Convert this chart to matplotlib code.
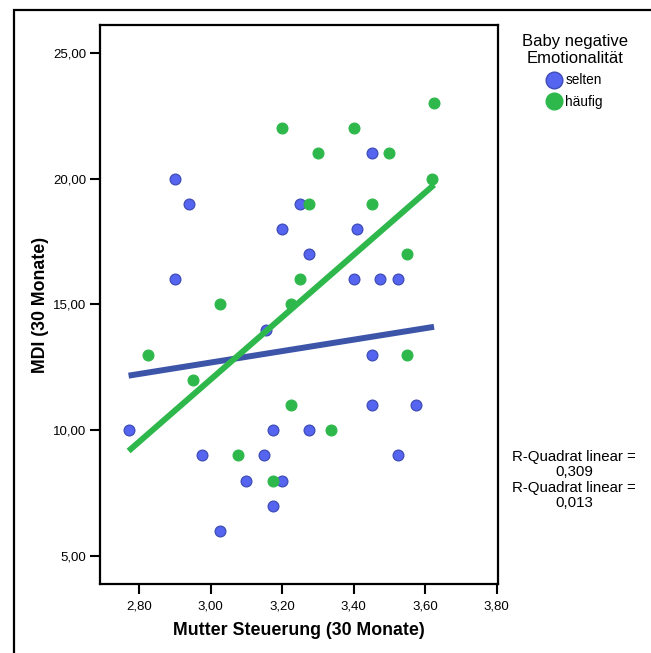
import numpy as np
import matplotlib
matplotlib.use("Agg")
import matplotlib.pyplot as plt
from matplotlib.ticker import FuncFormatter
from matplotlib.lines import Line2D
from matplotlib.patches import Rectangle

plt.rcParams['font.family'] = ['Liberation Sans', 'DejaVu Sans']

# Mutter Steuerung (x) / MDI (y), group "selten"
selten_x = [2.90, 2.94, 3.20, 3.25, 2.90, 3.45, 3.41, 3.275, 3.40, 3.475,
            3.525, 3.155, 2.77, 3.175, 2.975, 3.15, 3.45, 3.45, 3.575, 3.275,
            3.525, 3.10, 3.20, 3.175, 3.025]
selten_y = [20, 19, 18, 19, 16, 21, 18, 17, 16, 16,
            16, 14, 10, 10, 9, 9, 13, 11, 11, 10,
            9, 8, 8, 7, 6]
# group "häufig"
haeufig_x = [3.20, 3.40, 3.625, 3.30, 3.50, 3.62, 3.275, 3.45, 3.55, 3.25,
             3.025, 3.225, 2.825, 2.95, 3.225, 3.075, 3.55, 3.3375, 3.175]
haeufig_y = [22, 22, 23, 21, 21, 20, 19, 19, 17, 16,
             15, 15, 13, 12, 11, 9, 13, 10, 8]

# linear fits (slope, intercept)
fit_selten = (2.27, 5.88)
fit_haeufig = (12.37, -25.09)

x_ticks = [2.8, 3.0, 3.2, 3.4, 3.6, 3.8]
y_ticks = [5, 10, 15, 20, 25]
r2_labels = ["0,309", "0,013"]

BLUE_PT, BLUE_EDGE, BLUE_LINE = "#5665F0", "#3E4CB8", "#3D55A8"
GREEN = "#2EB84B"

fig = plt.figure(figsize=(6.51, 6.53), dpi=100)
ax = fig.add_axes([100/651, 1 - 584/653, 398/651, 559/653])

# outer frame (only left/top edges fall inside the picture)
fig.patches.append(Rectangle((14/651, -0.1), 1.2, 1 - 10/653 + 0.1,
                             transform=fig.transFigure, fill=False,
                             edgecolor="black", linewidth=1.6))

xs_all = np.array(selten_x + haeufig_x)
xfit = np.array([xs_all.min(), xs_all.max()])
for (k, d), lc in [(fit_selten, BLUE_LINE), (fit_haeufig, GREEN)]:
    ax.plot(xfit, k * xfit + d, color=lc, linewidth=4.3, solid_capstyle="butt", zorder=3)

ax.scatter(selten_x, selten_y, s=60, color=BLUE_PT, edgecolor=BLUE_EDGE,
           linewidth=0.9, zorder=2)
ax.scatter(haeufig_x, haeufig_y, s=60, color=GREEN, edgecolor=GREEN,
           linewidth=0.9, zorder=2)

ax.set_xlim(2.69, 3.804)
ax.set_ylim(3.89, 26.1)
ax.set_xticks(x_ticks)
ax.set_yticks(y_ticks)
fmt = FuncFormatter(lambda v, p: f"{v:.2f}".replace(".", ","))
ax.xaxis.set_major_formatter(fmt)
ax.yaxis.set_major_formatter(fmt)
ax.tick_params(direction="out", length=7, width=1.5, labelsize=9.5, pad=3)
ax.tick_params(axis="x", pad=5)
for s in ax.spines.values():
    s.set_linewidth(1.6)

ax.set_xlabel("Mutter Steuerung (30 Monate)", fontsize=12.8, fontweight="bold", labelpad=7)
ax.set_ylabel("MDI (30 Monate)", fontsize=12.8, fontweight="bold", labelpad=3)

# legend
handles = [Line2D([], [], marker="o", linestyle="", markersize=12,
                  markerfacecolor=BLUE_PT, markeredgecolor=BLUE_EDGE),
           Line2D([], [], marker="o", linestyle="", markersize=12,
                  markerfacecolor=GREEN, markeredgecolor=GREEN)]
leg = fig.legend(handles, ["selten", "häufig"], title="Baby negative\nEmotionalität",
                 loc="upper center", bbox_to_anchor=(575/651, 1 - 24/653),
                 frameon=False, fontsize=9.8, title_fontsize=12,
                 handlelength=1.0, handletextpad=0.35, labelspacing=0.55, borderpad=0.2)
leg.get_title().set_multialignment("center")
leg.get_title().set_linespacing(1.2)

fig.text(574/651, 1 - 480/653,
         f"R-Quadrat linear =\n{r2_labels[0]}\nR-Quadrat linear =\n{r2_labels[1]}",
         ha="center", va="center", fontsize=10.8, linespacing=1.15)

fig.savefig("out.png", dpi=100)
